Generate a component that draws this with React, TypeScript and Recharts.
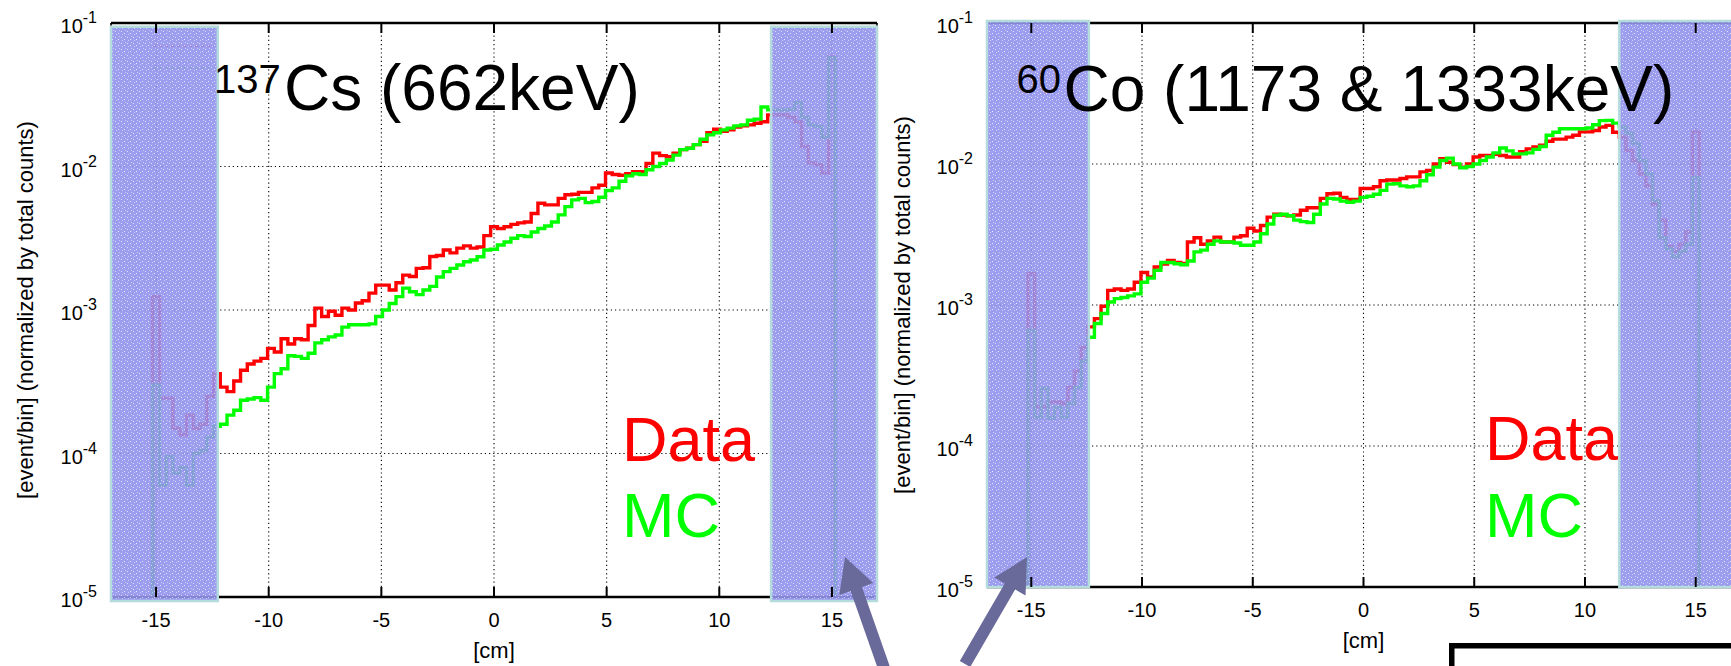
import React from "react";
import { LineChart, Line, XAxis, YAxis, CartesianGrid, ReferenceArea, ReferenceLine } from "recharts";

// histogram bins: 0.3 cm wide, first bin centred on -15 cm
const BIN_START = -15.15;
const BIN_WIDTH = 0.3;
const FLOOR = 1e-5;

const xTicks = [-15, -10, -5, 0, 5, 10, 15];
const yTicks = [1e-5, 1e-4, 1e-3, 1e-2, 1e-1];

// 137Cs (662keV)
const csData = [
  1.24e-3, 2.43e-4, 2.43e-4, 1.5e-4, 1.35e-4, 1.85e-4, 1.5e-4, 1.6e-4, 2.5e-4, 3.6e-4,
  2.9e-4, 2.7e-4, 3.2e-4, 3.8e-4, 4.2e-4, 4.4e-4, 4.6e-4, 5.4e-4, 5.1e-4, 6.3e-4,
  5.8e-4, 6.3e-4, 6.2e-4, 7.8e-4, 1.03e-3, 9.0e-4, 9.8e-4, 9.2e-4, 1.03e-3, 1.0e-3,
  1.12e-3, 1.16e-3, 1.31e-3, 1.49e-3, 1.49e-3, 1.38e-3, 1.55e-3, 1.75e-3, 1.71e-3, 1.95e-3,
  1.97e-3, 2.36e-3, 2.4e-3, 2.62e-3, 2.5e-3, 2.7e-3, 2.8e-3, 2.7e-3, 2.75e-3, 3.3e-3,
  3.8e-3, 3.7e-3, 3.8e-3, 3.95e-3, 4.05e-3, 4.1e-3, 4.7e-3, 5.55e-3, 5.4e-3, 5.4e-3,
  6.0e-3, 6.35e-3, 6.4e-3, 6.6e-3, 6.6e-3, 7.1e-3, 7.4e-3, 9.0e-3, 8.8e-3, 8.7e-3,
  8.9e-3, 9.2e-3, 9.2e-3, 1.05e-2, 1.24e-2, 1.19e-2, 1.17e-2, 1.24e-2, 1.31e-2, 1.34e-2,
  1.42e-2, 1.5e-2, 1.72e-2, 1.82e-2, 1.76e-2, 1.8e-2, 1.88e-2, 1.92e-2, 1.95e-2, 2.0e-2,
  2.05e-2, 2.29e-2, 2.29e-2, 2.29e-2, 2.2e-2, 2.05e-2, 1.38e-2, 1.06e-2, 1.03e-2, 9.0e-3,
  5.8e-2,
];
const csMC = [
  3.0e-4, 6.0e-5, 9.5e-5, 7.3e-5, 8.0e-5, 6.0e-5, 1.0e-4, 1.05e-4, 1.3e-4, 1.55e-4,
  1.6e-4, 1.85e-4, 2.0e-4, 2.35e-4, 2.4e-4, 2.45e-4, 2.35e-4, 2.9e-4, 3.6e-4, 3.9e-4,
  4.8e-4, 4.75e-4, 4.6e-4, 5.0e-4, 5.9e-4, 6.2e-4, 6.5e-4, 6.7e-4, 7.6e-4, 7.9e-4,
  7.9e-4, 7.9e-4, 8.0e-4, 9.0e-4, 1.0e-3, 1.11e-3, 1.24e-3, 1.42e-3, 1.34e-3, 1.28e-3,
  1.38e-3, 1.46e-3, 1.7e-3, 1.85e-3, 1.95e-3, 2.06e-3, 2.17e-3, 2.23e-3, 2.35e-3, 2.62e-3,
  2.65e-3, 2.84e-3, 2.98e-3, 3.16e-3, 3.3e-3, 3.25e-3, 3.5e-3, 3.7e-3, 3.85e-3, 4.1e-3,
  4.6e-3, 5.25e-3, 5.85e-3, 6.0e-3, 5.6e-3, 5.7e-3, 6.1e-3, 6.8e-3, 7.1e-3, 7.9e-3,
  8.6e-3, 8.9e-3, 8.8e-3, 9.5e-3, 1.0e-2, 1.05e-2, 1.11e-2, 1.2e-2, 1.31e-2, 1.34e-2,
  1.42e-2, 1.55e-2, 1.66e-2, 1.72e-2, 1.8e-2, 1.85e-2, 1.92e-2, 1.95e-2, 2.1e-2, 2.14e-2,
  2.6e-2, 2.48e-2, 2.48e-2, 2.48e-2, 2.5e-2, 2.8e-2, 2.2e-2, 1.95e-2, 1.9e-2, 1.6e-2,
  5.7e-2,
];

// 60Co (1173 & 1333keV)
const coData = [
  1.67e-3, 1.9e-4, 1.9e-4, 2.05e-4, 2.05e-4, 2.0e-4, 2.6e-4, 3.4e-4, 5.0e-4, 7.0e-4,
  8.0e-4, 9.8e-4, 1.27e-3, 1.3e-3, 1.27e-3, 1.3e-3, 1.45e-3, 1.7e-3, 1.58e-3, 1.86e-3,
  1.95e-3, 2.07e-3, 2.0e-3, 1.97e-3, 2.8e-3, 3.0e-3, 2.7e-3, 2.85e-3, 3.03e-3, 2.8e-3,
  2.8e-3, 3.03e-3, 3.1e-3, 3.5e-3, 3.35e-3, 3.66e-3, 4.2e-3, 4.4e-3, 4.35e-3, 4.3e-3,
  4.35e-3, 4.7e-3, 4.9e-3, 4.9e-3, 5.7e-3, 6.15e-3, 6.2e-3, 5.8e-3, 5.6e-3, 5.6e-3,
  6.7e-3, 6.7e-3, 6.9e-3, 7.6e-3, 7.7e-3, 7.7e-3, 7.9e-3, 8.1e-3, 8.1e-3, 8.8e-3,
  9.0e-3, 1.0e-2, 1.09e-2, 1.03e-2, 9.9e-3, 9.5e-3, 1.0e-2, 1.12e-2, 1.15e-2, 1.15e-2,
  1.17e-2, 1.15e-2, 1.12e-2, 1.12e-2, 1.22e-2, 1.28e-2, 1.32e-2, 1.36e-2, 1.45e-2, 1.5e-2,
  1.5e-2, 1.55e-2, 1.6e-2, 1.69e-2, 1.69e-2, 1.73e-2, 1.83e-2, 1.88e-2, 1.68e-2, 1.55e-2,
  1.25e-2, 1.06e-2, 8.5e-3, 7.0e-3, 5.2e-3, 4.0e-3, 2.6e-3, 2.4e-3, 2.7e-3, 3.3e-3,
  1.69e-2,
];
const coMC = [
  6.6e-4, 1.6e-4, 2.57e-4, 1.58e-4, 1.88e-4, 1.6e-4, 2.0e-4, 2.6e-4, 4.0e-4, 5.9e-4,
  7.4e-4, 8.7e-4, 1.05e-3, 1.11e-3, 1.13e-3, 1.16e-3, 1.2e-3, 1.45e-3, 1.55e-3, 1.76e-3,
  2.0e-3, 2.0e-3, 1.96e-3, 1.93e-3, 2.05e-3, 2.38e-3, 2.45e-3, 2.7e-3, 2.85e-3, 2.8e-3,
  2.8e-3, 2.75e-3, 2.65e-3, 2.65e-3, 2.8e-3, 3.2e-3, 3.75e-3, 4.33e-3, 4.4e-3, 4.3e-3,
  4.0e-3, 3.9e-3, 3.85e-3, 4.4e-3, 5.2e-3, 5.7e-3, 5.65e-3, 5.45e-3, 5.35e-3, 5.45e-3,
  5.8e-3, 5.9e-3, 6.1e-3, 6.5e-3, 7.2e-3, 7.25e-3, 7.0e-3, 6.9e-3, 7.0e-3, 7.6e-3,
  8.4e-3, 9.5e-3, 1.06e-2, 1.1e-2, 1.0e-2, 9.4e-3, 9.6e-3, 1.0e-2, 1.06e-2, 1.12e-2,
  1.2e-2, 1.3e-2, 1.24e-2, 1.18e-2, 1.18e-2, 1.2e-2, 1.27e-2, 1.33e-2, 1.6e-2, 1.68e-2,
  1.78e-2, 1.78e-2, 1.78e-2, 1.78e-2, 1.8e-2, 1.9e-2, 2.03e-2, 2.04e-2, 1.95e-2, 1.83e-2,
  1.65e-2, 1.4e-2, 1.06e-2, 8.5e-3, 5.5e-3, 3.0e-3, 2.5e-3, 2.2e-3, 2.4e-3, 2.7e-3,
  8.0e-3,
];

// masked (excluded) x ranges, cm
const csMasks = [[-17, -12.26], [12.3, 17]];
const coMasks = [[-17, -12.4], [11.55, 17]];

const FONT = '"Liberation Sans", Arial, Helvetica, sans-serif';
const H = 666;

function toRows(data: number[], mc: number[]) {
  const rows = [{ x: BIN_START, data: FLOOR, mc: FLOOR }];
  data.forEach((v, i) => rows.push({ x: BIN_START + i * BIN_WIDTH, data: v, mc: mc[i] }));
  rows.push({ x: BIN_START + data.length * BIN_WIDTH, data: FLOOR, mc: FLOOR });
  return rows;
}

const renderXTick = (plotH: number) => (props: any) => {
  const { x, y, payload } = props;
  return (
    <g>
      <line x1={x} y1={y} x2={x} y2={y - 10} stroke="#000" strokeWidth={2} />
      <line x1={x} y1={y - plotH} x2={x} y2={y - plotH + 10} stroke="#000" strokeWidth={2} />
      <text x={x} y={y + 30} textAnchor="middle" fontSize={20} fill="#000">
        {payload.value}
      </text>
    </g>
  );
};

const renderYTick = (props: any) => {
  const { x, y, payload } = props;
  const exp = Math.round(Math.log10(payload.value));
  return (
    <text x={x - 14} y={y + 10} textAnchor="end" fontSize={20} fill="#000">
      10<tspan fontSize={16} dy={-10}>{exp}</tspan>
    </text>
  );
};

interface PanelProps {
  rows: { x: number; data: number; mc: number }[];
  masks: number[][];
  maskY: [number, number];
  width: number;
  marginRight: number;
  yAxisWidth: number;
  xAxisHeight: number;
  yLabelOffset: number;
  xLabelOffset: number;
  samples?: boolean;
}

function Panel({ rows, masks, maskY, width, marginRight, yAxisWidth, xAxisHeight, yLabelOffset, xLabelOffset, samples }: PanelProps) {
  const margin = { top: 23, right: marginRight, bottom: 0, left: 0 };
  const plotH = H - margin.top - xAxisHeight;
  return (
    <LineChart width={width} height={H} data={rows} margin={margin}>
      <CartesianGrid stroke="#000" strokeDasharray="1.2 3" strokeWidth={1.1} />
      <XAxis
        type="number"
        dataKey="x"
        domain={[-17, 17]}
        ticks={xTicks}
        interval={0}
        allowDataOverflow
        height={xAxisHeight}
        tickSize={0}
        tickMargin={0}
        tickLine={false}
        tick={renderXTick(plotH)}
        axisLine={{ stroke: "#000", strokeWidth: 2.5 }}
        label={{ value: "[cm]", position: "insideBottom", offset: xLabelOffset, style: { fontSize: 22, fill: "#000", textAnchor: "middle" } }}
      />
      <YAxis
        scale="log"
        domain={[1e-5, 1e-1]}
        ticks={yTicks}
        interval={0}
        allowDataOverflow
        width={yAxisWidth}
        tickSize={0}
        tickMargin={0}
        tickLine={false}
        tick={renderYTick}
        axisLine={{ stroke: "#000", strokeWidth: 1.5 }}
        label={{
          value: "[event/bin] (normalized by total counts)",
          angle: -90,
          position: "insideLeft",
          offset: yLabelOffset,
          style: { fontSize: 22, fill: "#000", textAnchor: "middle" },
        }}
      />
      <ReferenceLine y={0.1} stroke="#000" strokeWidth={2.5} ifOverflow="visible" />
      <ReferenceLine x={17} stroke="#000" strokeWidth={1.5} ifOverflow="visible" />
      <Line type="stepAfter" dataKey="data" stroke="#ff0000" strokeWidth={3.4} dot={false} activeDot={false} isAnimationActive={false} />
      <Line type="stepAfter" dataKey="mc" stroke="#00ff00" strokeWidth={3.4} dot={false} activeDot={false} isAnimationActive={false} />
      {samples && (
        <ReferenceLine
          segment={[{ x: -15.13, y: 0.069 }, { x: -12.42, y: 0.069 }]}
          stroke="#ff0000"
          strokeWidth={1.5}
          strokeDasharray="3 3"
        />
      )}
      {samples && (
        <ReferenceLine
          segment={[{ x: -15.13, y: 0.0486 }, { x: -12.42, y: 0.0486 }]}
          stroke="#00ff00"
          strokeWidth={1.5}
          strokeDasharray="3 3"
        />
      )}
      {masks.map(([a, b]) => (
        <ReferenceArea
          key={a}
          x1={a}
          x2={b}
          y1={maskY[0]}
          y2={maskY[1]}
          ifOverflow="visible"
          fill="url(#shadeTex)"
          fillOpacity={0.9}
          stroke="#b4dcdc"
          strokeWidth={2.5}
          zIndex={1500}
        />
      ))}
    </LineChart>
  );
}

function arrowPoints(tail: [number, number], tip: [number, number]) {
  const dx = tip[0] - tail[0];
  const dy = tip[1] - tail[1];
  const len = Math.hypot(dx, dy);
  const ux = dx / len;
  const uy = dy / len;
  const nx = -uy;
  const ny = ux;
  const head = 34, hw = 18, sw = 6;
  const bx = tip[0] - ux * head;
  const by = tip[1] - uy * head;
  const pts = [
    [tip[0], tip[1]],
    [bx + nx * hw, by + ny * hw],
    [bx + nx * sw, by + ny * sw],
    [tail[0] + nx * sw, tail[1] + ny * sw],
    [tail[0] - nx * sw, tail[1] - ny * sw],
    [bx - nx * sw, by - ny * sw],
    [bx - nx * hw, by - ny * hw],
  ];
  return pts.map((p) => p.join(",")).join(" ");
}

export default function App() {
  const csRows = toRows(csData, csMC);
  const coRows = toRows(coData, coMC);
  return (
    <div
      style={{
        position: "absolute",
        left: 0,
        top: 0,
        width: 1731,
        height: H,
        overflow: "hidden",
        background: "#fff",
        fontFamily: FONT,
      }}
    >
      <div style={{ position: "absolute", left: 0, top: 0 }}>
        <Panel
          rows={csRows}
          masks={csMasks}
          maskY={[9.38e-6, 0.0942]}
          width={890}
          marginRight={13}
          yAxisWidth={111}
          xAxisHeight={69}
          yLabelOffset={25}
          xLabelOffset={8}
          samples
        />
      </div>
      <div style={{ position: "absolute", left: 880, top: 0 }}>
        <Panel
          rows={coRows}
          masks={coMasks}
          maskY={[1e-5, 0.1033]}
          width={870}
          marginRight={10}
          yAxisWidth={107}
          xAxisHeight={79}
          yLabelOffset={22}
          xLabelOffset={18}
        />
      </div>
      <svg
        width={1731}
        height={H}
        style={{ position: "absolute", left: 0, top: 0, pointerEvents: "none", fontFamily: FONT }}
      >
        <defs>
          <pattern id="shadeTex" width={6} height={6} patternUnits="userSpaceOnUse">
            <rect width={6} height={6} fill="#9292ee" />
            <rect x={1} y={1} width={1} height={1} fill="#ffffff" fillOpacity={0.7} />
            <rect x={4} y={3} width={1} height={1} fill="#e4e4ff" />
            <rect x={2} y={4} width={1} height={1} fill="#ffffff" fillOpacity={0.5} />
            <rect x={5} y={0} width={1} height={1} fill="#c8c8fa" />
          </pattern>
        </defs>
        <text x={214} y={93} fontSize={40} fill="#000">137</text>
        <text x={284} y={110} fontSize={64} fill="#000">Cs (662keV)</text>
        <text x={1016.5} y={93} fontSize={40} fill="#000">60</text>
        <text x={1063.5} y={111} fontSize={64} fill="#000">Co (1173 &amp; 1333keV)</text>
        <text x={622} y={461} fontSize={63} fill="#ff0000">Data</text>
        <text x={622} y={537} fontSize={63} fill="#00ff00">MC</text>
        <text x={1485} y={460} fontSize={63} fill="#ff0000">Data</text>
        <text x={1485} y={537} fontSize={63} fill="#00ff00">MC</text>
        <polygon points={arrowPoints([884, 668], [845, 557])} fill="#6a6a9a" />
        <polygon points={arrowPoints([965, 664], [1027, 557])} fill="#6a6a9a" />
        <rect x={1451.75} y={645.75} width={400} height={100} fill="none" stroke="#000" strokeWidth={5.5} />
      </svg>
    </div>
  );
}
